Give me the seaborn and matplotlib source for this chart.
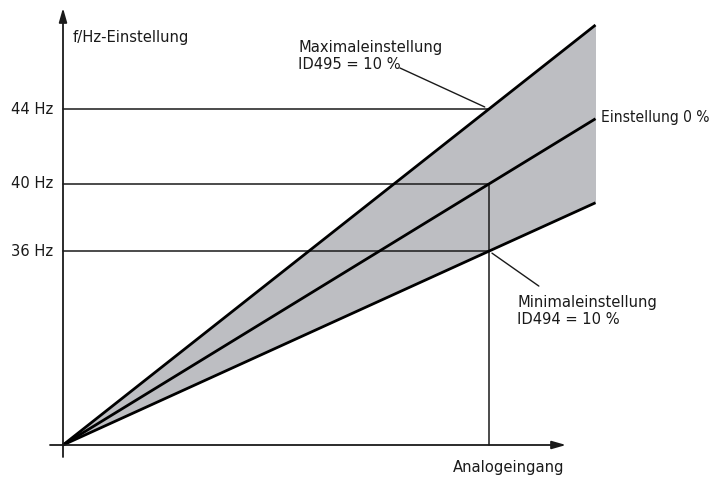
import matplotlib
matplotlib.use("Agg")
import matplotlib.pyplot as plt
import seaborn as sns
import pandas as pd

# ---- data (schematic units: x = analog input, y = relative frequency level) ----
analog_input = [0.0, 1.0, 1.25]
max_setting = [0.0, 1.0, 1.25]      # Maximaleinstellung ID495 = 10 %
zero_setting = [0.0, 0.777, 0.971]  # Einstellung 0 %
min_setting = [0.0, 0.577, 0.721]   # Minimaleinstellung ID494 = 10 %
freq_labels = ["36 Hz", "40 Hz", "44 Hz"]
freq_levels = [0.577, 0.777, 1.0]

sns.set_theme(style="white")
plt.rcParams['font.family'] = ['DejaVu Sans']
plt.rcParams['font.stretch'] = 'condensed'

fig = plt.figure(figsize=(7.16, 4.78), dpi=100)
ax = fig.add_axes([0, 0, 1, 1])
ax.set_xlim(-63 / 426, (716 - 63) / 426)
ax.set_ylim(-33 / 336, (478 - 33) / 336)
ax.axis('off')

df = pd.DataFrame({
    "x": analog_input * 3,
    "y": max_setting + zero_setting + min_setting,
    "s": ["max"] * 3 + ["zero"] * 3 + ["min"] * 3,
})

ax.fill_between(analog_input, min_setting, max_setting, color="#bdbec2", lw=0, zorder=1)

# reference lines
for lvl in freq_levels:
    ax.plot([0, 1.0], [lvl, lvl], color="#1a1a1a", lw=1.1, zorder=2)
ax.plot([1.0, 1.0], [0, freq_levels[1]], color="#1a1a1a", lw=1.1, zorder=2)

sns.lineplot(data=df, x="x", y="y", hue="s", palette={"max": "black", "zero": "black", "min": "black"},
             lw=2.0, legend=False, ax=ax, zorder=3, solid_capstyle="butt")

# axes with arrows
ax.annotate("", xy=(0, (445 - 8) / 336), xytext=(0, -12 / 336),
            arrowprops=dict(arrowstyle="-|>,head_length=0.7,head_width=0.2", color="#1a1a1a", lw=1.3,
                            shrinkA=0, shrinkB=0), zorder=4)
ax.annotate("", xy=((566 - 63) / 426, 0), xytext=(-13 / 426, 0),
            arrowprops=dict(arrowstyle="-|>,head_length=0.7,head_width=0.2", color="#1a1a1a", lw=1.3,
                            shrinkA=0, shrinkB=0), zorder=4)

fs = 11.8
for lab, lvl in zip(freq_labels, freq_levels):
    ax.text(-10 / 426, lvl, lab, ha="right", va="center", fontsize=fs, color="#1a1a1a")

ax.text(10 / 426, 1.214, "f/Hz-Einstellung", ha="left", va="center", fontsize=fs, color="#1a1a1a")
ax.text(1.176, -0.068, "Analogeingang", ha="right", va="center", fontsize=fs, color="#1a1a1a")
ax.text(1.262, 0.976, "Einstellung 0 %", ha="left", va="center", fontsize=11.2, color="#1a1a1a")
ax.text(0.552, 1.205, "Maximaleinstellung\nID495 = 10 %", ha="left", va="top", fontsize=fs,
        color="#1a1a1a", linespacing=1.15)
ax.text(1.066, 0.446, "Minimaleinstellung\nID494 = 10 %", ha="left", va="top", fontsize=fs,
        color="#1a1a1a", linespacing=1.15)

# leader lines
ax.plot([0.791, 0.990], [1.122, 1.006], color="#1a1a1a", lw=1.0, zorder=4)
ax.plot([1.007, 1.117], [0.571, 0.473], color="#1a1a1a", lw=1.0, zorder=4)

fig.savefig("out.png", dpi=100)
